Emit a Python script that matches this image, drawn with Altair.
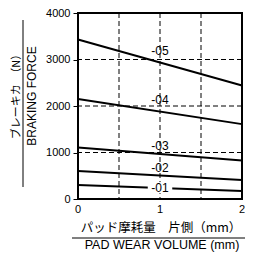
import altair as alt
import pandas as pd

# ---- data ----
series = ["-01", "-02", "-03", "-04", "-05"]
force_at_0 = [300, 600, 1110, 2150, 3430]   # N at 0 mm wear
force_at_2 = [170, 410, 830, 1610, 2440]    # N at 2 mm wear
wear_points = [0, 2]
label_wear = [1, 1, 1, 1, 1]
label_force = [245, 673, 1146, 2125, 3187]
x_ticks = [0, 1, 2]
x_tick_labels = ["0", "1", "2"]
y_ticks = [0, 1000, 2000, 3000, 4000]
x_grid = [0.5, 1, 1.5]
y_grid = [1000, 2000, 3000]

rows = []
for s, a, b in zip(series, force_at_0, force_at_2):
    rows.append({"series": s, "wear": wear_points[0], "force": a})
    rows.append({"series": s, "wear": wear_points[1], "force": b})
lines_df = pd.DataFrame(rows)
labels_df = pd.DataFrame({"series": series, "wear": label_wear, "force": label_force})
xtick_df = pd.DataFrame({"wear": x_ticks, "lab": x_tick_labels})

LATIN = "Liberation Sans"
CJK = "Noto Sans CJK JP"

PAD_L, PAD_T, W, H = 70, 5, 164, 186
OX, OY = 8 + PAD_L, 8 + PAD_T   # page position of plot origin

xs = alt.Scale(domain=[0, 2], nice=False, zero=False)
ys = alt.Scale(domain=[0, 4000], nice=False)

xaxis = alt.Axis(values=x_ticks, title=None, grid=False, domain=False, ticks=False,
                 labels=False)
yaxis = alt.Axis(values=y_ticks, title=None, grid=False, domain=False, ticks=True,
                 tickSize=5, tickColor="black", labelPadding=3, labelFont=LATIN,
                 labelFontSize=11, labelOverlap=False, labelColor="black", format="d")

lines = alt.Chart(lines_df).mark_line(color="black", strokeWidth=2).encode(
    x=alt.X("wear:Q", scale=xs, axis=xaxis),
    y=alt.Y("force:Q", scale=ys, axis=yaxis),
    detail="series:N",
)

xgrid = alt.Chart(pd.DataFrame({"g": x_grid})).mark_rule(
    color="black", strokeWidth=1, strokeDash=[5, 3]
).encode(x=alt.X("g:Q", scale=xs, axis=xaxis))

ygrid = alt.Chart(pd.DataFrame({"g": y_grid})).mark_rule(
    color="black", strokeWidth=1, strokeDash=[5, 3]
).encode(y=alt.Y("g:Q", scale=ys, axis=yaxis))

xlabels = alt.Chart(xtick_df).mark_text(
    font=LATIN, fontSize=11, color="black", align="center", baseline="middle"
).encode(x=alt.X("wear:Q", scale=xs, axis=xaxis), y=alt.value(H + 11), text="lab:N")

bg = alt.Chart(labels_df[labels_df["series"] == "-01"]).mark_point(
    shape="M-1,-0.45H1V0.45H-1Z", filled=True, fill="white", opacity=1, strokeWidth=0
).encode(x=alt.X("wear:Q", scale=xs, axis=xaxis), y=alt.Y("force:Q", scale=ys, axis=yaxis),
         size=alt.value(600))

labels = alt.Chart(labels_df).mark_text(
    font=LATIN, fontSize=12, color="black", align="center", baseline="middle"
).encode(x=alt.X("wear:Q", scale=xs, axis=xaxis), y=alt.Y("force:Q", scale=ys, axis=yaxis),
         text="series:N")

one = pd.DataFrame({"a": [0]})

def txt(s, px, py, font, size, angle=0):
    return alt.Chart(one).mark_text(
        text=s, font=font, fontSize=size, color="black", align="center",
        baseline="middle", angle=angle
    ).encode(x=alt.value(px - OX), y=alt.value(py - OY))

ytitle_jp = txt("ブレーキカ　（N）", 17, 94, CJK, 11, 270)
ytitle_en = txt("BRAKING FORCE", 32, 96, LATIN, 12, 270)
ysep = alt.Chart(one).mark_rule(color="black", strokeWidth=1).encode(
    x=alt.value(23 - OX), y=alt.value(20 - OY), y2=alt.value(187 - OY))

xtitle_jp = txt("パッド摩耗量　片側（mm）", 161, 228, CJK, 12.5)
xtitle_en = txt("PAD  WEAR  VOLUME (mm)", 162, 245, LATIN, 12.5)
xsep = alt.Chart(one).mark_rule(color="black", strokeWidth=1).encode(
    x=alt.value(72 - OX), x2=alt.value(245 - OX), y=alt.value(238 - OY))

chart = alt.layer(
    lines, xgrid, ygrid, xlabels, bg, labels,
    ytitle_jp, ytitle_en, ysep, xtitle_jp, xtitle_en, xsep
).properties(
    width=W, height=H,
    autosize=alt.AutoSizeParams(type="none"),
    padding={"left": PAD_L, "top": PAD_T, "right": 237 - PAD_L - W, "bottom": 248 - PAD_T - H},
).configure_view(stroke="black", strokeWidth=2)

chart.save("out.html", embed_options={"renderer": "svg", "actions": False})
